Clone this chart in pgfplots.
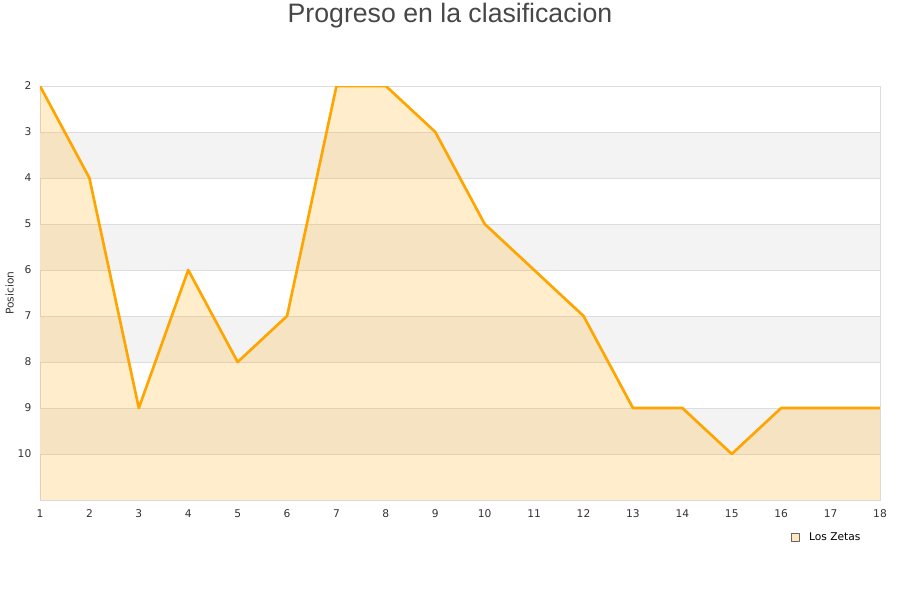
\documentclass[border=0pt]{standalone}
\usepackage{pgfplots}
\pgfplotsset{compat=1.18}
\usepackage{fontspec}
\setmainfont{DejaVu Sans}
\newfontfamily\titlefont{Liberation Sans}
\definecolor{band}{HTML}{F3F3F3}
\definecolor{gridc}{HTML}{DDDDDD}
\definecolor{ln}{HTML}{FFA500}
\definecolor{txt}{HTML}{333333}
\begin{document}
\begin{tikzpicture}
\path[use as bounding box] (0,0) rectangle (675pt,450pt);
\node[text=txt!90,font=\titlefont\fontsize{20}{24}\selectfont] at (337.5pt,438pt) {Progreso en la clasificacion};
\begin{axis}[
  at={(30pt,75pt)}, anchor=south west,
  scale only axis, width=630pt, height=310.5pt,
  xmin=1, xmax=18, ymin=2, ymax=11, y dir=reverse,
  xtick={1,...,18}, ytick={2,...,10},
  major tick length=0pt,
  axis line style={gridc},
  tick label style={font=\fontsize{8}{10}\selectfont, text=txt},
  xticklabel style={yshift=-4pt},
  yticklabel style={xshift=-3pt},
  /pgf/number format/assume math mode=true,
  ylabel={Posicion}, ylabel style={font=\fontsize{8}{10}\selectfont, text=txt},
  ylabel shift=-4pt,
  legend style={at={(0.985,-0.065)}, anchor=north east, draw=none, fill=none, font=\fontsize{8}{10}\selectfont, legend cell align=left},
  legend image code/.code={\draw[draw=black!60, fill=ln!25, line width=0.4pt] (0pt,-3pt) rectangle (6pt,3pt);},
]
\fill[band] (axis cs:1,3) rectangle (axis cs:18,4);
\fill[band] (axis cs:1,5) rectangle (axis cs:18,6);
\fill[band] (axis cs:1,7) rectangle (axis cs:18,8);
\fill[band] (axis cs:1,9) rectangle (axis cs:18,10);
\pgfplotsinvokeforeach{3,...,10}{\draw[gridc, line width=0.5pt] (axis cs:1,#1) -- (axis cs:18,#1);}
\addplot[fill=ln, fill opacity=0.2, draw=none, forget plot] coordinates {
(1,11) (1,2) (2,4) (3,9) (4,6) (5,8) (6,7) (7,2) (8,2) (9,3) (10,5) (11,6) (12,7) (13,9) (14,9) (15,10) (16,9) (17,9) (18,9) (18,11)};
\addplot[ln, line width=2pt, line join=round, mark=none] coordinates {
(1,2) (2,4) (3,9) (4,6) (5,8) (6,7) (7,2) (8,2) (9,3) (10,5) (11,6) (12,7) (13,9) (14,9) (15,10) (16,9) (17,9) (18,9)};
\addlegendentry{\hspace{5pt}Los Zetas}
\end{axis}
\end{tikzpicture}
\end{document}
